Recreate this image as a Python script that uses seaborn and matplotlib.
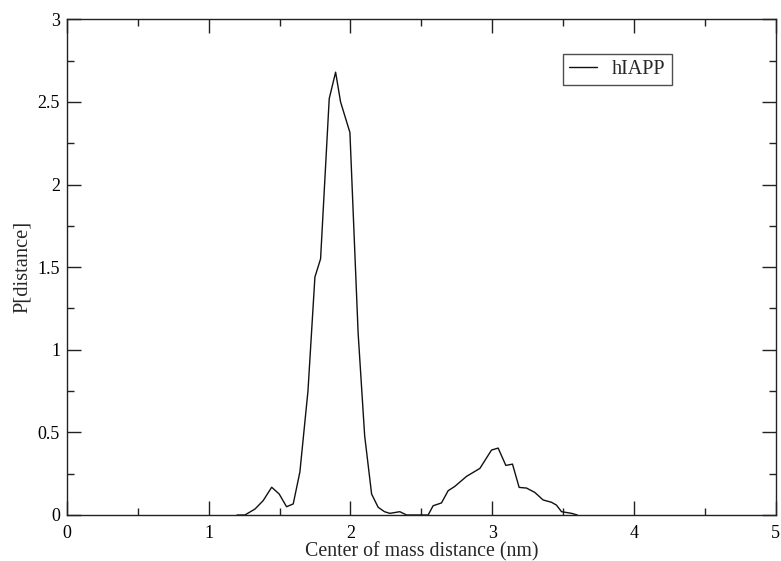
import matplotlib
matplotlib.use("Agg")
import matplotlib.pyplot as plt
import seaborn as sns
import pandas as pd
from matplotlib.ticker import MultipleLocator

distance = [1.20, 1.255, 1.326, 1.384, 1.444, 1.497, 1.549, 1.596, 1.643, 1.70,
            1.749, 1.789, 1.85, 1.895, 1.93, 1.996, 2.054, 2.10, 2.149, 2.195,
            2.24, 2.278, 2.348, 2.396, 2.45, 2.50, 2.548, 2.583, 2.642, 2.689,
            2.736, 2.819, 2.913, 2.995, 3.042, 3.096, 3.143, 3.19, 3.242, 3.30,
            3.359, 3.418, 3.453, 3.489, 3.56, 3.60]
probability = [0.0, 0.0, 0.036, 0.087, 0.168, 0.127, 0.05, 0.067, 0.26, 0.75,
               1.44, 1.55, 2.52, 2.68, 2.50, 2.315, 1.10, 0.48, 0.127, 0.047,
               0.02, 0.01, 0.02, 0.0, 0.0, 0.0, 0.0, 0.056, 0.073, 0.147,
               0.173, 0.234, 0.282, 0.393, 0.405, 0.30, 0.308, 0.167, 0.163, 0.137,
               0.091, 0.077, 0.06, 0.02, 0.01, 0.0]
series_name = "hIAPP"

df = pd.DataFrame({"x": distance, "y": probability, "series": series_name})

sns.set_style("ticks")
plt.rcParams['font.family'] = ['Liberation Serif', 'DejaVu Serif']

fig = plt.figure(figsize=(7.81, 5.61), dpi=100)
ax = fig.add_axes([0.0858, 0.082, 0.9074, 0.8836])

sns.lineplot(data=df, x="x", y="y", hue="series", palette=["#111111"],
             linewidth=1.0, ax=ax, sort=False, estimator=None)

ax.set_xlim(0, 5)
ax.set_ylim(0, 3)
ax.xaxis.set_major_locator(MultipleLocator(1))
ax.xaxis.set_minor_locator(MultipleLocator(0.5))
ax.yaxis.set_major_locator(MultipleLocator(0.5))
ax.yaxis.set_minor_locator(MultipleLocator(0.25))
ax.xaxis.set_major_formatter(plt.FuncFormatter(lambda v, p: f"{v:g}"))
ax.yaxis.set_major_formatter(plt.FuncFormatter(lambda v, p: f"{v:g}"))

for s in ax.spines.values():
    s.set_visible(True)
    s.set_color("#222222")
    s.set_linewidth(1.0)

ax.tick_params(which="both", direction="in", top=True, right=True,
               colors="#222222", labelcolor="black", labelsize=13)
ax.tick_params(axis="x", which="major", length=10, width=1.0, pad=7)
ax.tick_params(axis="y", which="major", length=10, width=1.0, pad=5)
ax.tick_params(which="minor", length=5, width=1.0)

ax.set_xlabel("Center of mass distance (nm)", fontsize=14.3, labelpad=0)
ax.set_ylabel("P[distance]", fontsize=14.8, labelpad=4)

leg = ax.legend(loc="upper left", bbox_to_anchor=(0.6995, 0.930), frameon=True,
                fancybox=False, edgecolor="#222222", fontsize=14.5,
                handlelength=1.4, handletextpad=0.75, borderpad=0.3,
                borderaxespad=0)
leg.get_frame().set_linewidth(1.0)
leg.set_title(None)

fig.savefig("out.png", dpi=100)
